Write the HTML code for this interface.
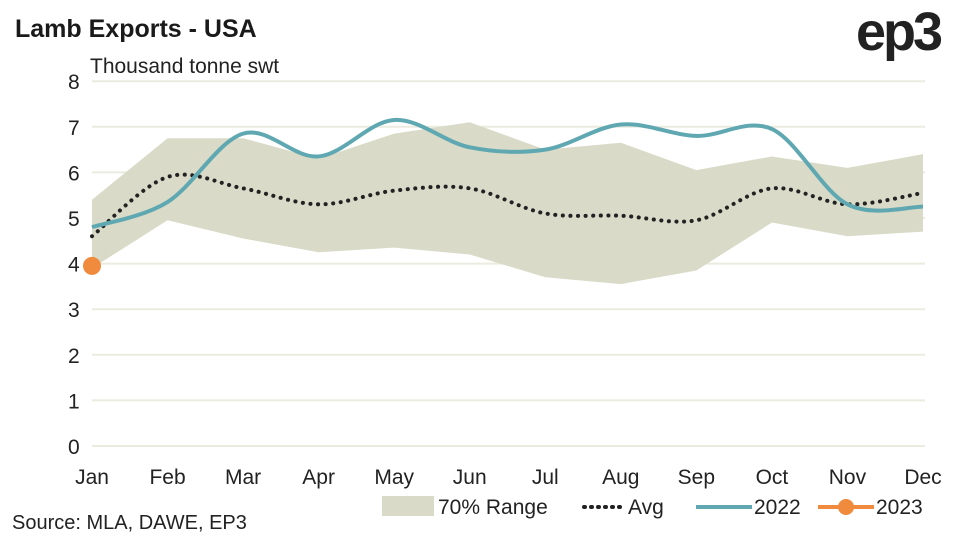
<!DOCTYPE html>
<html><head><meta charset="utf-8"><style>
body{margin:0;background:#fff;font-family:"Liberation Sans",sans-serif;}
svg text{font-family:"Liberation Sans",sans-serif;}
</style></head><body>
<svg id="chart" width="962" height="541">
<text x="15" y="37" font-size="25" font-weight="bold" fill="#1a1a1a">Lamb Exports - USA</text>
<text x="856" y="50" font-size="54" font-weight="bold" fill="#222" letter-spacing="-3">ep3</text>
<text x="90" y="73" font-size="21" fill="#222">Thousand tonne swt</text>
<g id="grid"></g><g id="marks"></g>
<g>
<rect x="382" y="496" width="52" height="20" fill="#d9dbc8"/>
<text x="438" y="514" font-size="21" fill="#222">70% Range</text>
<line x1="584" y1="507" x2="624" y2="507" stroke="#222" stroke-width="4" stroke-dasharray="1,6" stroke-linecap="round"/>
<text x="628" y="514" font-size="21" fill="#222">Avg</text>
<line x1="696" y1="507" x2="752" y2="507" stroke="#5fa8b2" stroke-width="4"/>
<text x="754" y="514" font-size="21" fill="#222">2022</text>
<line x1="818" y1="507" x2="874" y2="507" stroke="#f08a3c" stroke-width="4"/>
<circle cx="846" cy="507" r="8" fill="#f08a3c"/>
<text x="876" y="514" font-size="21" fill="#222">2023</text>
</g>
<text x="12" y="529" font-size="20" fill="#222">Source: MLA, DAWE, EP3</text>
</svg>
<script>
const months=["Jan","Feb","Mar","Apr","May","Jun","Jul","Aug","Sep","Oct","Nov","Dec"];
const yTicks=[0,1,2,3,4,5,6,7,8];
const rangeUpper=[5.4,6.75,6.75,6.3,6.85,7.1,6.5,6.65,6.05,6.35,6.1,6.4];
const rangeLower=[3.9,4.95,4.55,4.25,4.35,4.2,3.7,3.55,3.85,4.9,4.6,4.7];
const avg=[4.6,5.9,5.65,5.3,5.6,5.65,5.1,5.05,4.95,5.65,5.3,5.55];
const s2022=[4.8,5.35,6.85,6.35,7.15,6.55,6.5,7.05,6.8,6.95,5.3,5.25];
const s2023=[3.95];
const NS="http://www.w3.org/2000/svg";
const x=i=>92+i*(831/11), y=v=>446-v*45.6;
function mk(t,a,p){const e=document.createElementNS(NS,t);for(const k in a)e.setAttribute(k,a[k]);p.appendChild(e);return e;}
const grid=document.getElementById('grid'),marks=document.getElementById('marks');
yTicks.forEach(t=>{
 const l=mk('line',{x1:92,x2:925,y1:y(t),y2:y(t),stroke:'#ebebe0','stroke-width':2},grid);
 
 
 const tx=mk('text',{x:68,y:y(t)+8,'font-size':21,fill:'#222'},grid);tx.textContent=t;
 
 
});
months.forEach((m,i)=>{
 const tx=mk('text',{x:x(i),y:484,'font-size':21,fill:'#222','text-anchor':'middle'},grid);tx.textContent=m;
 
 
});
let pts=rangeUpper.map((v,i)=>x(i)+','+y(v)).concat(rangeLower.map((v,i)=>[i,v]).reverse().map(([i,v])=>x(i)+','+y(v)));
const poly=mk('polygon',{points:pts.join(' '),fill:'#d9dbc8'},marks);


function smooth(arr){const p=arr.map((v,i)=>[x(i),y(v)]);let d='M'+p[0];for(let i=0;i<p.length-1;i++){const p0=p[i-1]||p[i],p1=p[i],p2=p[i+1],p3=p[i+2]||p2;const c1=[p1[0]+(p2[0]-p0[0])/6,p1[1]+(p2[1]-p0[1])/6],c2=[p2[0]-(p3[0]-p1[0])/6,p2[1]-(p3[1]-p1[1])/6];d+=' C'+c1+' '+c2+' '+p2;}return d;}
const a=mk('path',{d:smooth(avg),fill:'none',stroke:'#222','stroke-width':4,'stroke-dasharray':'0.1,7.5','stroke-linecap':'round'},marks);


const l2=mk('path',{d:smooth(s2022),fill:'none',stroke:'#5fa8b2','stroke-width':4},marks);


s2023.forEach((v,i)=>{const c=mk('circle',{cx:x(i),cy:y(v),r:9,fill:'#f08a3c'},marks);
 
 });
</script>
</body></html>
